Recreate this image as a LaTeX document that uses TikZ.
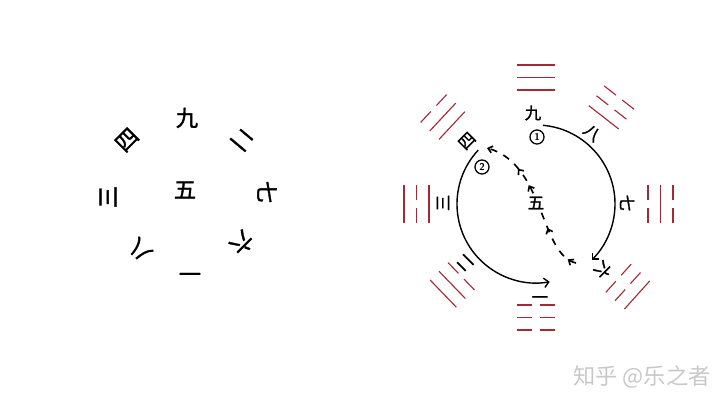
\documentclass[tikz,border=0pt]{standalone}
\usepackage{fontspec}
\usepackage[svgnames]{xcolor}
\usepackage{tikz}
\usetikzlibrary{arrows.meta,decorations.markings}
\newfontfamily\cjk{Noto Sans CJK SC}
\newfontfamily\cjkpen{Noto Sans CJK SC}[FakeBold=1.6]
\definecolor{guared}{RGB}{165,40,52}
\definecolor{mark}{RGB}{200,200,200}
\pgfdeclarelayer{edgelayer}
\pgfdeclarelayer{nodelayer}
\pgfsetlayers{edgelayer,nodelayer,main}
\tikzstyle{numl}=[font=\cjkpen\fontsize{19}{19}\selectfont,inner sep=0pt]
\tikzstyle{numr}=[font=\cjkpen\fontsize{14}{14}\selectfont,inner sep=0pt]
\tikzstyle{centre}=[numr,fill=white,inner sep=1.5pt]
\tikzstyle{order}=[circle,draw=black,line width=1.1,inner sep=0pt,minimum size=12pt,font=\sffamily\bfseries\fontsize{8.5}{8.5}\selectfont]
\tikzstyle{yao}=[-,draw=guared,line width=0.95]
\tikzstyle{course}=[-{Straight Barb[length=4pt,width=8pt]},line width=1.2]
\tikzstyle{back}=[-{Straight Barb[length=3.5pt,width=6pt]},dash pattern=on 6pt off 6pt,line width=1.4,postaction={decorate},decoration={markings,
  mark=at position .06 with {\arrow{Straight Barb[length=3.5pt,width=6pt]}},
  mark=at position .31 with {\arrow{Straight Barb[length=3.5pt,width=6pt]}},
  mark=at position .62 with {\arrow{Straight Barb[length=3.5pt,width=6pt]}},
  mark=at position .75 with {\arrow{Straight Barb[length=3.5pt,width=6pt]}}}]
% one line of a trigram: distance from the centre, 1 = solid, 0 = broken
\newcommand{\yao}[2]{\ifnum#2=1 \draw[style=yao] (-19,#1) -- (19,#1);
  \else \draw[style=yao] (-19,#1) -- (-4,#1) (4,#1) -- (19,#1); \fi}
% trigram: angle, inner distance, lines from inside out
\newcommand{\gua}[5]{\begin{scope}[shift={(o)},rotate=#1-90]
  \yao{#2}{#3} \yao{#2+12.5}{#4} \yao{#2+25}{#5}
  \end{scope}}

\begin{document}
\begin{tikzpicture}[x=0.03cm,y=0.03cm]
	\useasboundingbox (0,0) rectangle (720,405);
	\begin{pgfonlayer}{nodelayer}
		% left: the numbers alone
		\node [style=numl] (l9) at (187, 287) {九};
		\node [style=numl, rotate=-40] (l2) at (242, 265) {二};
		\node [style=numl, rotate=-90] (l7) at (267, 213) {七};
		\node [style=numl, rotate=-135] (l6) at (242, 162) {六};
		\node [style=numl, rotate=180] (l1) at (190, 135) {一};
		\node [style=numl, rotate=135] (l8) at (140, 155) {八};
		\node [style=numl, rotate=90] (l3) at (108, 208) {三};
		\node [style=numl, rotate=45] (l4) at (127, 265) {四};
		\node [style=numl] (l5) at (185, 215) {五};

		% right: the numbers on the circle
		\coordinate (o) at (536, 201);
		\node [style=numr] (r9) at (533, 292) {九};
		\node [style=order] (c1) at (537, 268) {1};
		\node [style=numr, rotate=-40] (r8) at (592, 272) {八};
		\node [style=numr, rotate=-90] (r7) at (627, 202) {七};
		\node [style=numr, rotate=-135] (r6) at (603, 135) {六};
		\node [style=numr, rotate=180] (r1) at (540, 111) {一};
		\node [style=numr, rotate=135] (r2) at (465, 142) {二};
		\node [style=numr, rotate=90] (r3) at (443, 202) {三};
		\node [style=numr, rotate=45] (r4) at (467, 264) {四};
		\node [style=order] (c2) at (482, 238) {2};
		\node [style=centre] (r5) at (536, 202) {五};

		\node [font=\cjk\fontsize{19}{19}\selectfont, text=mark] (zhihu) at (642, 28) {知乎 @乐之者};
	\end{pgfonlayer}
	\begin{pgfonlayer}{edgelayer}
		\coordinate (s1) at ([shift={(85:79)}]o);
		\coordinate (s2) at ([shift={(137:79)}]o);
		\coordinate (t1) at (576, 142);
		\coordinate (t2) at (487, 257);
		\draw [style=course] (s1) arc [start angle=85, end angle=-45, radius=79];
		\draw [style=course] (s2) arc [start angle=137, end angle=280, radius=79];
		\draw [style=back] (t1) .. controls (540, 150) and (545, 240) .. (t2);
		% the eight trigrams
		\gua{90}{114}{1}{1}{1}
		\gua{52}{110}{1}{0}{0}
		\gua{0}{112}{0}{1}{0}
		\gua{-42}{111}{0}{0}{1}
		\gua{-90}{101}{0}{0}{0}
		\gua{224}{104}{0}{1}{1}
		\gua{180}{107}{1}{0}{1}
		\gua{137}{115}{1}{1}{0}
	\end{pgfonlayer}
\end{tikzpicture}
\end{document}
